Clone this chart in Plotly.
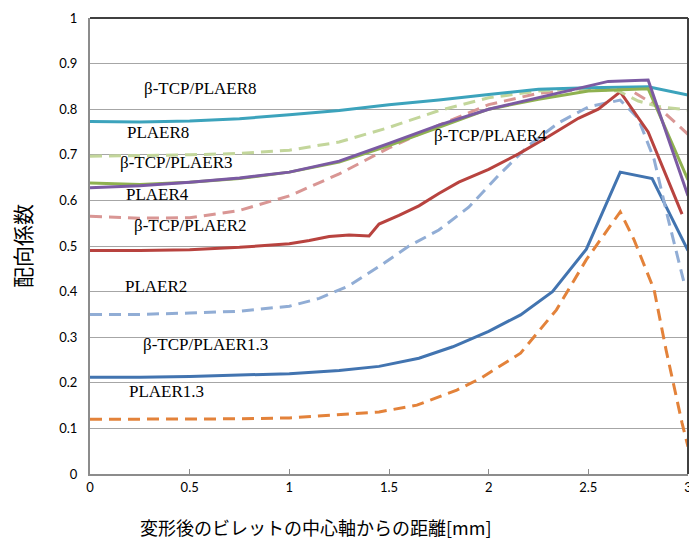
import plotly.graph_objects as go

# ---- data ----
x_tcp8 = [0, 0.25, 0.5, 0.75, 1, 1.25, 1.5, 1.75, 2, 2.25, 2.5, 2.8, 3]
y_tcp8 = [0.773, 0.772, 0.774, 0.779, 0.788, 0.797, 0.81, 0.82, 0.832, 0.844, 0.847, 0.849, 0.831]

x_pl8 = [0, 0.25, 0.5, 0.75, 1, 1.25, 1.5, 1.75, 2, 2.25, 2.5, 2.65, 2.75, 2.85, 3]
y_pl8 = [0.697, 0.698, 0.70, 0.703, 0.71, 0.728, 0.76, 0.797, 0.825, 0.84, 0.845, 0.84, 0.818, 0.806, 0.798]

x_tcp3 = [0, 0.25, 0.5, 0.75, 1, 1.25, 1.5, 1.75, 2, 2.25, 2.5, 2.8, 3]
y_tcp3 = [0.638, 0.635, 0.64, 0.648, 0.662, 0.684, 0.72, 0.76, 0.80, 0.822, 0.84, 0.845, 0.645]

x_tcp4 = [0, 0.25, 0.5, 0.75, 1, 1.25, 1.5, 1.75, 2, 2.25, 2.5, 2.6, 2.8, 3]
y_tcp4 = [0.628, 0.632, 0.64, 0.649, 0.662, 0.686, 0.725, 0.765, 0.80, 0.825, 0.85, 0.861, 0.864, 0.61]

x_pl4 = [0, 0.25, 0.5, 0.75, 1, 1.25, 1.5, 1.75, 2, 2.25, 2.5, 2.7, 2.85, 3]
y_pl4 = [0.565, 0.561, 0.562, 0.578, 0.61, 0.658, 0.715, 0.765, 0.81, 0.835, 0.845, 0.845, 0.805, 0.745]

x_tcp2 = [0, 0.25, 0.5, 0.75, 1, 1.1, 1.2, 1.3, 1.4, 1.45, 1.55, 1.65, 1.75, 1.85, 2,
          2.15, 2.3, 2.45, 2.55, 2.66, 2.8, 2.97]
y_tcp2 = [0.49, 0.49, 0.492, 0.497, 0.505, 0.512, 0.521, 0.524, 0.522, 0.548, 0.567, 0.588,
          0.615, 0.64, 0.668, 0.702, 0.74, 0.78, 0.80, 0.838, 0.75, 0.57]

x_pl2 = [0, 0.25, 0.5, 0.75, 1, 1.15, 1.3, 1.45, 1.6, 1.75, 1.9, 2.05, 2.2, 2.35, 2.5,
         2.66, 2.75, 2.83, 2.9, 2.98]
y_pl2 = [0.35, 0.35, 0.353, 0.357, 0.368, 0.385, 0.413, 0.455, 0.5, 0.535, 0.585, 0.655,
         0.72, 0.77, 0.805, 0.82, 0.78, 0.69, 0.56, 0.42]

x_tcp13 = [0, 0.25, 0.5, 0.75, 1, 1.25, 1.45, 1.65, 1.82, 2, 2.16, 2.32, 2.49, 2.66, 2.82, 3]
y_tcp13 = [0.212, 0.212, 0.214, 0.217, 0.22, 0.227, 0.236, 0.254, 0.279, 0.313, 0.349,
           0.40, 0.493, 0.662, 0.648, 0.49]

x_pl13 = [0, 0.25, 0.5, 0.75, 1, 1.25, 1.45, 1.64, 1.84, 1.96, 2.16, 2.34, 2.49, 2.66,
          2.73, 2.83, 2.89, 2.97, 3]
y_pl13 = [0.12, 0.12, 0.12, 0.121, 0.123, 0.13, 0.136, 0.151, 0.184, 0.21, 0.265, 0.36,
          0.47, 0.575, 0.513, 0.404, 0.272, 0.112, 0.06]

x_ticks = [0, 0.5, 1, 1.5, 2, 2.5, 3]
x_ticklabels = ["0", "0.5", "1", "1.5", "2", "2.5", "3"]
y_ticks = [0, 0.1, 0.2, 0.3, 0.4, 0.5, 0.6, 0.7, 0.8, 0.9, 1]
y_ticklabels = ["0", "0.1", "0.2", "0.3", "0.4", "0.5", "0.6", "0.7", "0.8", "0.9", "1"]

label_texts = ["β-TCP/PLAER8", "PLAER8", "β-TCP/PLAER3", "PLAER4", "β-TCP/PLAER2",
               "β-TCP/PLAER4", "PLAER2", "β-TCP/PLAER1.3", "PLAER1.3"]
label_x = [0.552, 0.341, 0.432, 0.341, 0.502, 2.007, 0.331, 0.577, 0.386]
label_y = [0.846, 0.748, 0.684, 0.612, 0.544, 0.743, 0.412, 0.283, 0.182]

# ---- figure ----
series = [
    ("PLAER1.3", x_pl13, y_pl13, "#E3823A", "dash"),
    ("β-TCP/PLAER1.3", x_tcp13, y_tcp13, "#4274B0", "solid"),
    ("PLAER2", x_pl2, y_pl2, "#91ADD5", "dash"),
    ("β-TCP/PLAER2", x_tcp2, y_tcp2, "#B8433F", "solid"),
    ("PLAER4", x_pl4, y_pl4, "#D99694", "dash"),
    ("PLAER8", x_pl8, y_pl8, "#C3D69B", "dash"),
    ("β-TCP/PLAER8", x_tcp8, y_tcp8, "#3CA3BC", "solid"),
    ("β-TCP/PLAER3", x_tcp3, y_tcp3, "#8FB150", "solid"),
    ("β-TCP/PLAER4", x_tcp4, y_tcp4, "#7B5AA3", "solid"),
]

fig = go.Figure()
for name, xs, ys, color, dash in series:
    fig.add_trace(go.Scatter(
        x=xs, y=ys, name=name, mode="lines",
        line=dict(color=color, width=3, dash="12px,7px" if dash == "dash" else "solid"),
        hoverinfo="x+y+name",
    ))

annotations = []
for t, lx, ly in zip(label_texts, label_x, label_y):
    annotations.append(dict(
        x=lx, y=ly, xref="x", yref="y", text=t, showarrow=False,
        font=dict(family="Liberation Serif", size=17, color="#000000"),
        xanchor="center", yanchor="middle",
    ))

annotations.append(dict(
    x=0, y=0.5, xref="paper", yref="paper", text="配向係数", showarrow=False,
    textangle=-90, xanchor="center", yanchor="middle", xshift=-68,
    font=dict(family="Noto Sans CJK JP", size=21, color="#000000"),
))
annotations.append(dict(
    x=0.378, y=0, xref="paper", yref="paper",
    text="変形後のビレットの中心軸からの距離[mm]", showarrow=False,
    xanchor="center", yanchor="middle", yshift=-53,
    font=dict(family="Noto Sans CJK JP", size=18, color="#000000"),
))

shapes = [
    dict(type="line", xref="paper", yref="paper", x0=0, x1=1, y0=1, y1=1,
         line=dict(color="#404040", width=2), layer="above"),
    dict(type="line", xref="paper", yref="paper", x0=1, x1=1, y0=0, y1=1,
         line=dict(color="#404040", width=2), layer="above"),
]

fig.update_layout(
    width=689, height=541,
    margin=dict(l=90, r=1, t=18, b=67, pad=0),
    paper_bgcolor="white", plot_bgcolor="white",
    showlegend=False,
    annotations=annotations,
    shapes=shapes,
    font=dict(family="Lato", size=13, color="#000000"),
    xaxis=dict(
        range=[0, 3], tickvals=x_ticks, ticktext=x_ticklabels,
        showgrid=False, zeroline=False, automargin=False,
        showline=True, linecolor="#8c8c8c", linewidth=2,
        ticks="inside", ticklen=5, tickcolor="#8c8c8c",
        ticklabeloverflow="allow",
        tickfont=dict(family="Lato", size=13, color="#000000"),
    ),
    yaxis=dict(
        range=[0, 1], tickvals=y_ticks, ticktext=y_ticklabels,
        showgrid=True, gridcolor="#a6a6a6", gridwidth=1,
        zeroline=False, automargin=False,
        showline=True, linecolor="#8c8c8c", linewidth=2,
        ticks="", ticklabelstandoff=8,
        tickfont=dict(family="Lato", size=13, color="#000000"),
    ),
)

fig.write_html(
    "out.html",
    config={"displayModeBar": False},
    post_script="document.body.style.margin='0';document.body.style.overflow='hidden';",
)
